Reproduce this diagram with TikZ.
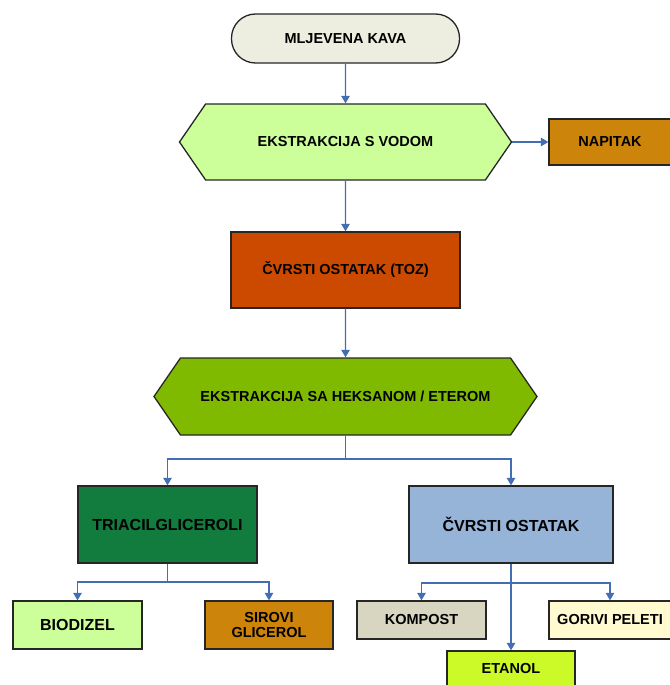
\documentclass[tikz,border=0pt]{standalone}
\usepackage{fontspec}
\setmainfont{Liberation Sans}
\usetikzlibrary{shapes.symbols,arrows.meta}

\definecolor{kavabg}{RGB}{238,238,224}
\definecolor{svijetlozel}{RGB}{204,255,153}
\definecolor{smeda}{RGB}{204,132,10}
\definecolor{narancasta}{RGB}{204,74,0}
\definecolor{zelena}{RGB}{128,186,0}
\definecolor{tamnozel}{RGB}{18,124,62}
\definecolor{plava}{RGB}{150,180,216}
\definecolor{siva}{RGB}{216,214,192}
\definecolor{zuta}{RGB}{255,250,208}
\definecolor{limeta}{RGB}{204,250,40}
\definecolor{veza}{RGB}{68,110,180}

\tikzset{
    kutija/.style={draw=black!85, line width=1.3pt, align=center,
        font=\fontsize{14.5}{15.5}\selectfont\bfseries, inner sep=2pt},
    veliko/.style={font=\fontsize{16}{17}\selectfont\bfseries},
    sestero/.style={kutija, signal, signal to=west and east,
        signal pointer angle=111},
    conn/.style={draw=veza, line width=1.2pt,
        -{Triangle[length=7.5pt,width=8.5pt]}}
}

\begin{document}
\begin{tikzpicture}[x=1pt,y=-1pt]
    \useasboundingbox (0,0) rectangle (669,685);
    \node (kava) [kutija, fill=kavabg, rounded corners=24pt,
        minimum width=228pt, minimum height=49pt] at (345.5,38.5) {MLJEVENA KAVA};
    \node (vodom) [sestero, fill=svijetlozel,
        minimum width=332pt, minimum height=76pt] at (345.5,142) {EKSTRAKCIJA S VODOM};
    \node (napitak) [kutija, fill=smeda,
        minimum width=122pt, minimum height=46pt] at (610,142) {NAPITAK};
    \node (toz) [kutija, fill=narancasta,
        minimum width=229pt, minimum height=76pt] at (345.5,270) {ČVRSTI OSTATAK (TOZ)};
    \node (heksan) [sestero, fill=zelena,
        minimum width=383pt, minimum height=77pt] at (345.5,396.5) {EKSTRAKCIJA SA HEKSANOM / ETEROM};
    \node (tria) [kutija, veliko, fill=tamnozel,
        minimum width=179pt, minimum height=77pt] at (167.5,524.5) {TRIACILGLICEROLI};
    \node (ostatak) [kutija, veliko, fill=plava,
        minimum width=204pt, minimum height=77pt] at (511,524.5) {ČVRSTI OSTATAK};
    \node (biodizel) [kutija, veliko, fill=svijetlozel,
        minimum width=129pt, minimum height=48pt] at (77.5,625) {BIODIZEL};
    \node (glicerol) [kutija, fill=smeda,
        minimum width=128pt, minimum height=48pt] at (269,625) {SIROVI\\GLICEROL};
    \node (kompost) [kutija, fill=siva,
        minimum width=129pt, minimum height=38pt] at (421.5,620) {KOMPOST};
    \node (gorivi) [kutija, fill=zuta,
        minimum width=122pt, minimum height=38pt] at (610,620) {GORIVI PELETI};
    \node (etanol) [kutija, fill=limeta,
        minimum width=128pt, minimum height=46pt, text depth=12pt] at (511,674) {ETANOL};
    \coordinate (grana1) at (345.5,459);
    \coordinate (grana2) at (167.5,582);
    \coordinate (grana3) at (511,583);
    \draw [conn] (kava) -- (vodom);
    \draw [conn] (vodom.east) -- (napitak);
    \draw [conn] (vodom) -- (toz);
    \draw [conn] (toz) -- (heksan);
    \draw [draw=veza, line width=1.2pt] (heksan.south) -- (grana1);
    \foreach \cilj in {tria,ostatak} {
    \draw [conn] (grana1) -| (\cilj.north);
    }
    \draw [draw=veza, line width=1.2pt] (tria.south) -- (grana2);
    \foreach \cilj in {biodizel,glicerol} {
    \draw [conn] (grana2) -| (\cilj.north);
    }
    \draw [draw=veza, line width=1.2pt] (ostatak.south) -- (grana3);
    \foreach \cilj in {kompost,gorivi} {
    \draw [conn] (grana3) -| (\cilj.north);
    }
    \draw [conn] (ostatak.south) -- (etanol.north);
\end{tikzpicture}
\end{document}
